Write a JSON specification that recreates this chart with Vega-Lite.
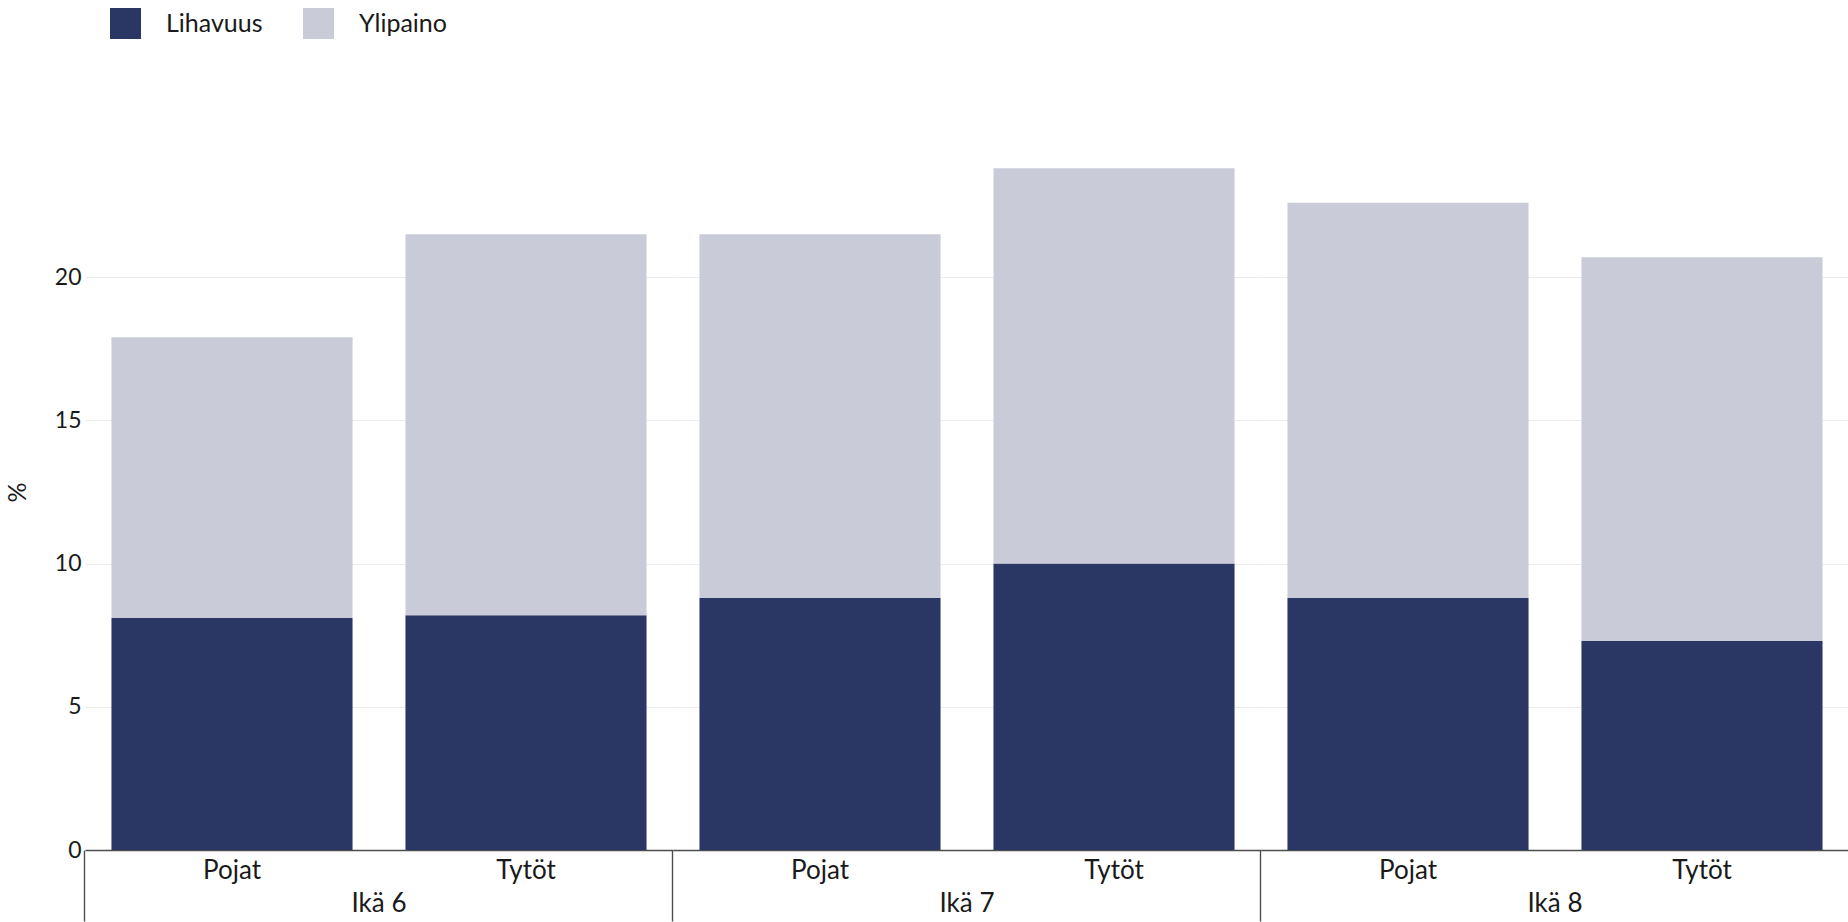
{
  "$schema": "https://vega.github.io/schema/vega-lite/v6.json",
  "padding": {"left": 5, "top": 8, "right": 0, "bottom": 0},
  "bounds": "flush",
  "spacing": 0,
  "config": {
    "view": {"stroke": null},
    "font": "Lato",
    "text": {"font": "Lato"}
  },
  "data": {
    "values": [
      {"age": "Ikä 6", "sex": "Pojat", "type": "Lihavuus", "value": 8.1},
      {"age": "Ikä 6", "sex": "Pojat", "type": "Ylipaino", "value": 9.8},
      {"age": "Ikä 6", "sex": "Tytöt", "type": "Lihavuus", "value": 8.2},
      {"age": "Ikä 6", "sex": "Tytöt", "type": "Ylipaino", "value": 13.3},
      {"age": "Ikä 7", "sex": "Pojat", "type": "Lihavuus", "value": 8.8},
      {"age": "Ikä 7", "sex": "Pojat", "type": "Ylipaino", "value": 12.7},
      {"age": "Ikä 7", "sex": "Tytöt", "type": "Lihavuus", "value": 10.0},
      {"age": "Ikä 7", "sex": "Tytöt", "type": "Ylipaino", "value": 13.8},
      {"age": "Ikä 8", "sex": "Pojat", "type": "Lihavuus", "value": 8.8},
      {"age": "Ikä 8", "sex": "Pojat", "type": "Ylipaino", "value": 13.8},
      {"age": "Ikä 8", "sex": "Tytöt", "type": "Lihavuus", "value": 7.3},
      {"age": "Ikä 8", "sex": "Tytöt", "type": "Ylipaino", "value": 13.4}
    ]
  },
  "facet": {
    "column": {
      "field": "age",
      "type": "nominal",
      "header": {
        "title": null,
        "labelOrient": "bottom",
        "labelFont": "Lato",
        "labelFontSize": 26,
        "labelColor": "#1a1a1a",
        "labelPadding": 41
      }
    }
  },
  "resolve": {"scale": {"x": "independent"}, "axis": {"x": "independent"}},
  "spec": {
    "width": 588,
    "height": 716,
    "mark": {"type": "bar"},
    "encoding": {
      "x": {
        "field": "sex",
        "type": "nominal",
        "scale": {"paddingInner": 0.18, "paddingOuter": 0.09},
        "axis": {
          "title": null,
          "labelAngle": 0,
          "labelFont": "Lato",
          "labelFontSize": 26,
          "labelColor": "#1a1a1a",
          "domainColor": "#4d4d4d",
          "domainWidth": 1.4,
          "tickSize": 71,
          "tickWidth": 1.4,
          "bandPosition": -0.1098,
          "tickColor": {"condition": {"test": "datum.value === 'Pojat'", "value": "#4d4d4d"}, "value": "transparent"},
          "labelPadding": -64
        }
      },
      "y": {
        "field": "value",
        "type": "quantitative",
        "stack": "zero",
        "scale": {"domain": [0, 25], "nice": false},
        "axis": {
          "title": "%",
          "titleFont": "Lato",
          "titleFontSize": 25,
          "titleFontWeight": "normal",
          "titleColor": "#1a1a1a",
          "titlePadding": 24,
          "values": [0, 5, 10, 15, 20],
          "labelFont": "Lato",
          "labelFontSize": 23,
          "labelColor": "#1a1a1a",
          "labelPadding": 4,
          "ticks": false,
          "domain": false,
          "gridColor": {"condition": {"test": "datum.value === 0", "value": "transparent"}, "value": "#ebebeb"},
          "gridWidth": 1.2
        }
      },
      "color": {
        "field": "type",
        "type": "nominal",
        "scale": {"domain": ["Lihavuus", "Ylipaino"], "range": ["#2a3663", "#c9ccd8"]},
        "legend": {
          "title": null,
          "orient": "none",
          "direction": "horizontal",
          "legendX": 25,
          "legendY": -126,
          "symbolType": "square",
          "symbolSize": 961,
          "symbolStrokeWidth": 0,
          "labelFont": "Lato",
          "labelFontSize": 25,
          "labelColor": "#1a1a1a",
          "labelOffset": 25,
          "columnPadding": 40
        }
      },
      "order": {"field": "type", "sort": "ascending"}
    }
  }
}
